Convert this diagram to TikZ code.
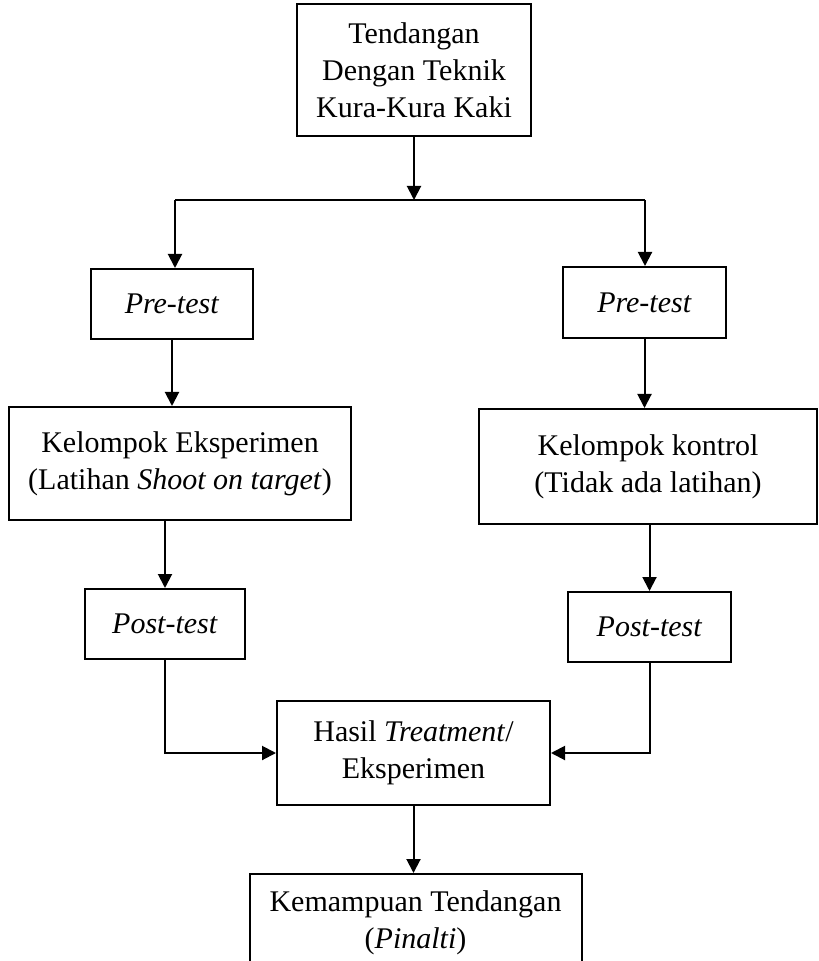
\documentclass[tikz,border=0pt]{standalone}
\usepackage{fontspec}
\setmainfont{Liberation Serif}
\usepackage{tikz}
\usetikzlibrary{arrows.meta, positioning}

\begin{document}
\begin{tikzpicture}[
  x=0.5pt, y=-0.5pt,
  box/.style={rectangle, draw=black, line width=1pt, align=center, inner sep=0pt,
              font=\fontsize{15}{18.5}\selectfont},
  arrow/.style={-{Triangle[length=7pt, width=7pt]}, line width=1pt},
  line/.style={line width=1pt}
]
\useasboundingbox (0,0) rectangle (818,961);

\node[box, minimum width=117pt, minimum height=66pt] (start) at (414,70) {Tendangan\\Dengan Teknik\\Kura-Kura Kaki};
\node[box, minimum width=81pt, minimum height=35pt] (preA) at (172,304) {\textit{Pre-test}};
\node[box, minimum width=81.5pt, minimum height=35.5pt] (preB) at (644.5,302.5) {\textit{Pre-test}};
\node[box, minimum width=171pt, minimum height=56.5pt] (eksp) at (180,463.5) {Kelompok Eksperimen\\(Latihan \textit{Shoot on target})};
\node[box, minimum width=169pt, minimum height=57.5pt] (kontrol) at (648,466.5) {Kelompok kontrol\\(Tidak ada latihan)};
\node[box, minimum width=80pt, minimum height=35pt] (postA) at (165,624) {\textit{Post-test}};
\node[box, minimum width=81.5pt, minimum height=35pt] (postB) at (649.5,627) {\textit{Post-test}};
\node[box, minimum width=136.5pt, minimum height=52pt] (hasil) at (413.5,753) {Hasil \textit{Treatment}/\\Eksperimen};
\node[box, minimum width=166pt, minimum height=49pt, anchor=north] (hasilakhir) at (415.5,873) {Kemampuan Tendangan\\(\textit{Pinalti})};

\coordinate (split) at (414,200);
\coordinate (splitA) at (175,200);
\coordinate (splitB) at (645,200);

\draw[arrow] (start.south) -- (split);
\draw[line] (splitA) -- (splitB);
\draw[arrow] (splitA) -- (splitA |- preA.north);
\draw[arrow] (splitB) -- (splitB |- preB.north);
\draw[arrow] (preA.south) -- (preA.south |- eksp.north);
\draw[arrow] (preB.south) -- (preB.south |- kontrol.north);
\draw[arrow] (postA.north |- eksp.south) -- (postA.north);
\draw[arrow] (postB.north |- kontrol.south) -- (postB.north);
\draw[arrow] (postA.south) |- (hasil.west);
\draw[arrow] (postB.south) |- (hasil.east);
\draw[arrow] (hasil.south) -- (hasil.south |- hasilakhir.north);
\end{tikzpicture}
\end{document}
